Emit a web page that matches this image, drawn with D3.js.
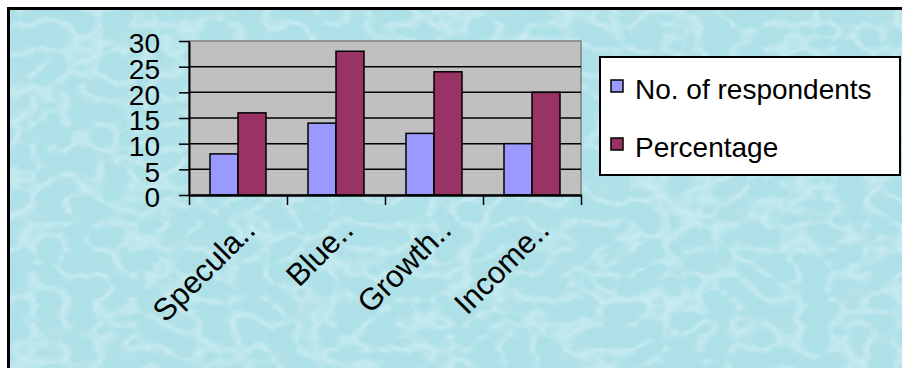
<!DOCTYPE html>
<html>
<head>
<meta charset="utf-8">
<script src="https://cdn.jsdelivr.net/npm/d3@7"></script>
<style>
  html, body { margin: 0; padding: 0; background: #fff; }
  svg { display: block; }
  text { font-family: "Liberation Sans", Arial, sans-serif; fill: #000; }
</style>
</head>
<body>
<div id="chart"></div>
<script>
// chart data
const categories = ['Specula..', 'Blue..', 'Growth..', 'Income..'];
const seriesNames = ['No. of respondents', 'Percentage'];
const respondents = [8, 14, 12, 10];
const percentage = [16, 28, 24, 20];
const yTicks = [0, 5, 10, 15, 20, 25, 30];

const W = 902, H = 368;
const plot = { left: 189, right: 581, top: 41, bottom: 195 };
const colors = ['#9999ff', '#993366'];

const svg = d3.select('#chart').append('svg')
  .attr('width', W)
  .attr('height', H);

// watery background texture
const defs = svg.append('defs');
const f1 = defs.append('filter').attr('id', 'hi').attr('x', 0).attr('y', 0).attr('width', 1).attr('height', 1);
f1.append('feTurbulence').attr('type', 'turbulence').attr('baseFrequency', '0.03 0.04')
  .attr('numOctaves', 2).attr('seed', 11);
f1.append('feColorMatrix').attr('type', 'matrix')
  .attr('values', '0 0 0 0 0.82  0 0 0 0 0.96  0 0 0 0 0.98  -3 0 0 0 0.9');
const f2 = defs.append('filter').attr('id', 'lo').attr('x', 0).attr('y', 0).attr('width', 1).attr('height', 1);
f2.append('feTurbulence').attr('type', 'fractalNoise').attr('baseFrequency', '0.025 0.035')
  .attr('numOctaves', 2).attr('seed', 3);
f2.append('feColorMatrix').attr('type', 'matrix')
  .attr('values', '0 0 0 0 0.5  0 0 0 0 0.77  0 0 0 0 0.82  0 2.2 0 0 -1.0');

const bg = svg.append('g');
bg.append('rect').attr('x', 8).attr('y', 8).attr('width', W - 8).attr('height', H - 8)
  .attr('fill', '#ade0e7');
bg.append('rect').attr('x', 8).attr('y', 8).attr('width', W - 8).attr('height', H - 8)
  .attr('filter', 'url(#lo)').attr('opacity', 0.6);
bg.append('rect').attr('x', 8).attr('y', 8).attr('width', W - 8).attr('height', H - 8)
  .attr('filter', 'url(#hi)').attr('opacity', 0.45);

// frame (top and left visible)
svg.append('line').attr('x1', 7).attr('x2', W).attr('y1', 8.5).attr('y2', 8.5)
  .attr('stroke', '#000').attr('stroke-width', 3);
svg.append('line').attr('x1', 8.5).attr('x2', 8.5).attr('y1', 7).attr('y2', H)
  .attr('stroke', '#000').attr('stroke-width', 3);

// scales
const y = d3.scaleLinear().domain([0, 30]).range([plot.bottom, plot.top]);
const x = d3.scaleBand().domain(categories).range([plot.left, plot.right]).padding(0);
const xSub = d3.scaleBand().domain(seriesNames).range([0, x.bandwidth()])
  .paddingInner(0).paddingOuter(0.75);
const xEdge = d3.scaleLinear().domain([0, categories.length]).range([plot.left, plot.right]);

// plot area
svg.append('rect')
  .attr('x', plot.left).attr('y', plot.top)
  .attr('width', plot.right - plot.left).attr('height', plot.bottom - plot.top)
  .attr('fill', '#c0c0c0').attr('stroke', '#808080').attr('stroke-width', 1.5);

// gridlines
svg.append('g').selectAll('line')
  .data(yTicks.filter(d => d > 0 && d < 30))
  .join('line')
  .attr('x1', plot.left).attr('x2', plot.right)
  .attr('y1', d => y(d)).attr('y2', d => y(d))
  .attr('stroke', '#000').attr('stroke-width', 1.5);

// bars
const rows = categories.map((c, i) => ({ cat: c, values: [respondents[i], percentage[i]] }));
svg.append('g').selectAll('g')
  .data(rows)
  .join('g')
  .attr('transform', d => `translate(${x(d.cat)},0)`)
  .selectAll('rect')
  .data(d => d.values.map((v, k) => ({ key: seriesNames[k], value: v, k })))
  .join('rect')
  .attr('x', d => xSub(d.key))
  .attr('y', d => y(d.value))
  .attr('width', xSub.bandwidth())
  .attr('height', d => y(0) - y(d.value))
  .attr('fill', d => colors[d.k])
  .attr('stroke', '#000').attr('stroke-width', 1.5);

// y axis
const yAxis = svg.append('g')
  .attr('transform', `translate(${plot.left},0)`)
  .call(d3.axisLeft(y).tickValues(yTicks).tickSize(10).tickSizeOuter(0).tickPadding(19));
yAxis.select('.domain').attr('stroke', '#000').attr('stroke-width', 2);
yAxis.selectAll('.tick line').attr('stroke', '#000').attr('stroke-width', 1.5);
yAxis.selectAll('.tick text')
  .attr('font-family', '"Liberation Sans", Arial, sans-serif')
  .attr('font-size', 28)
  .attr('dy', '0.42em')
  .attr('fill', '#000');

// x axis (ticks at category edges)
const xAxis = svg.append('g')
  .attr('transform', `translate(0,${plot.bottom})`)
  .call(d3.axisBottom(xEdge).ticks(categories.length).tickSize(10).tickSizeOuter(0).tickFormat(''));
xAxis.select('.domain').attr('stroke', '#000').attr('stroke-width', 2.5);
xAxis.selectAll('.tick line').attr('stroke', '#000').attr('stroke-width', 1.5);

// category labels, rotated
svg.append('g').selectAll('text')
  .data(categories)
  .join('text')
  .attr('transform', d => `translate(${x(d) + x.bandwidth() / 2 + 19},${plot.bottom + 37}) rotate(-45)`)
  .attr('text-anchor', 'end')
  .attr('font-size', 31)
  .text(d => d);

// legend
const legend = svg.append('g');
legend.append('rect')
  .attr('x', 600).attr('y', 57).attr('width', 300).attr('height', 118)
  .attr('fill', '#fff').attr('stroke', '#000').attr('stroke-width', 2);
const items = legend.selectAll('g')
  .data(seriesNames)
  .join('g')
  .attr('transform', (d, i) => `translate(611,${99 + i * 58})`);
items.append('rect')
  .attr('x', 0).attr('y', -19).attr('width', 12).attr('height', 12)
  .attr('fill', (d, i) => colors[i]).attr('stroke', '#000').attr('stroke-width', 1.5);
items.append('text')
  .attr('x', 24).attr('y', 0)
  .attr('font-size', 28)
  .text(d => d);
</script>
</body>
</html>
